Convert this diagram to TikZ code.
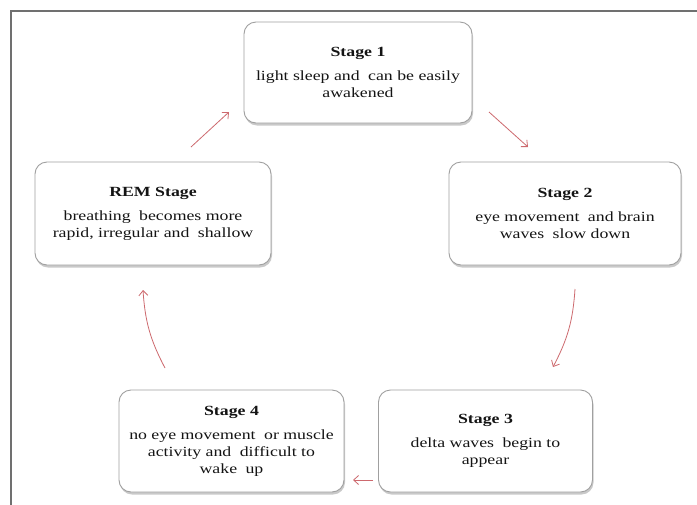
\documentclass[tikz,border=0pt]{standalone}
\usepackage{fontspec}
\setmainfont{Liberation Serif}[FakeStretch=1.27]
\usetikzlibrary{arrows.meta,shadows}
\definecolor{framegray}{RGB}{112,112,112}
\definecolor{boxgray}{RGB}{160,160,160}
\definecolor{arrowred}{RGB}{205,105,110}
\definecolor{txt}{RGB}{20,20,20}
\newcommand{\wsp}{\hspace{4pt}}
\begin{document}
\begin{tikzpicture}[x=1pt,y=-1pt,
  stagebox/.style={draw=boxgray, line width=0.9pt, fill=white, rounded corners=12pt,
    inner sep=0pt, align=center, text=txt,
    font=\fontsize{14}{17}\selectfont,
    drop shadow={shadow xshift=1pt, shadow yshift=-2.5pt, fill=gray!70, opacity=0.6}},
  cyc/.style={draw=arrowred, line width=0.8pt, -{Straight Barb[length=5pt,width=9pt]}}]
\useasboundingbox (0,0) rectangle (697,504);
\fill[white] (0,0) rectangle (697,504);
% frame
\draw[framegray, line width=2.3pt] (11,506) -- (11,10.7) -- (699,10.7);
% stages
\node[stagebox, minimum width=228pt, minimum height=101pt] (s1) at (358,72.5)
  {\textbf{Stage 1}\\[7pt]light sleep and \wsp can be easily\\awakened};
\node[stagebox, minimum width=232pt, minimum height=103pt] (s2) at (565,213.5)
  {\textbf{Stage 2}\\[7pt]eye movement \wsp and brain\\waves \wsp slow down};
\node[stagebox, minimum width=214pt, minimum height=102pt] (s3) at (485.5,441)
  {\textbf{Stage 3}\\[7pt]delta waves \wsp begin to\\appear};
\node[stagebox, minimum width=225pt, minimum height=102pt] (s4) at (231.5,441)
  {\textbf{Stage 4}\\[7pt]no eye movement \wsp or muscle\\activity and \wsp difficult to\\wake \wsp up};
\node[stagebox, minimum width=236pt, minimum height=103pt] (rem) at (153,213.5)
  {\textbf{REM Stage}\\[7pt]breathing \wsp becomes more\\rapid, irregular and \wsp shallow};
% arrow ends
\coordinate (a1s) at (489,112);  \coordinate (a1e) at (528,147);
\coordinate (a2s) at (575,289);  \coordinate (a2e) at (553,367);
\coordinate (a3s) at (373,480);  \coordinate (a3e) at (353,480);
\coordinate (a4s) at (165,368);  \coordinate (a4e) at (143,290);
\coordinate (a5s) at (191,147);  \coordinate (a5e) at (229,112);
\draw[cyc] (a1s) -- (a1e);
\draw[cyc] (a2s) to[bend left=12] (a2e);
\draw[cyc] (a3s) -- (a3e);
\draw[cyc] (a4s) to[bend left=12] (a4e);
\draw[cyc] (a5s) -- (a5e);
\end{tikzpicture}
\end{document}
